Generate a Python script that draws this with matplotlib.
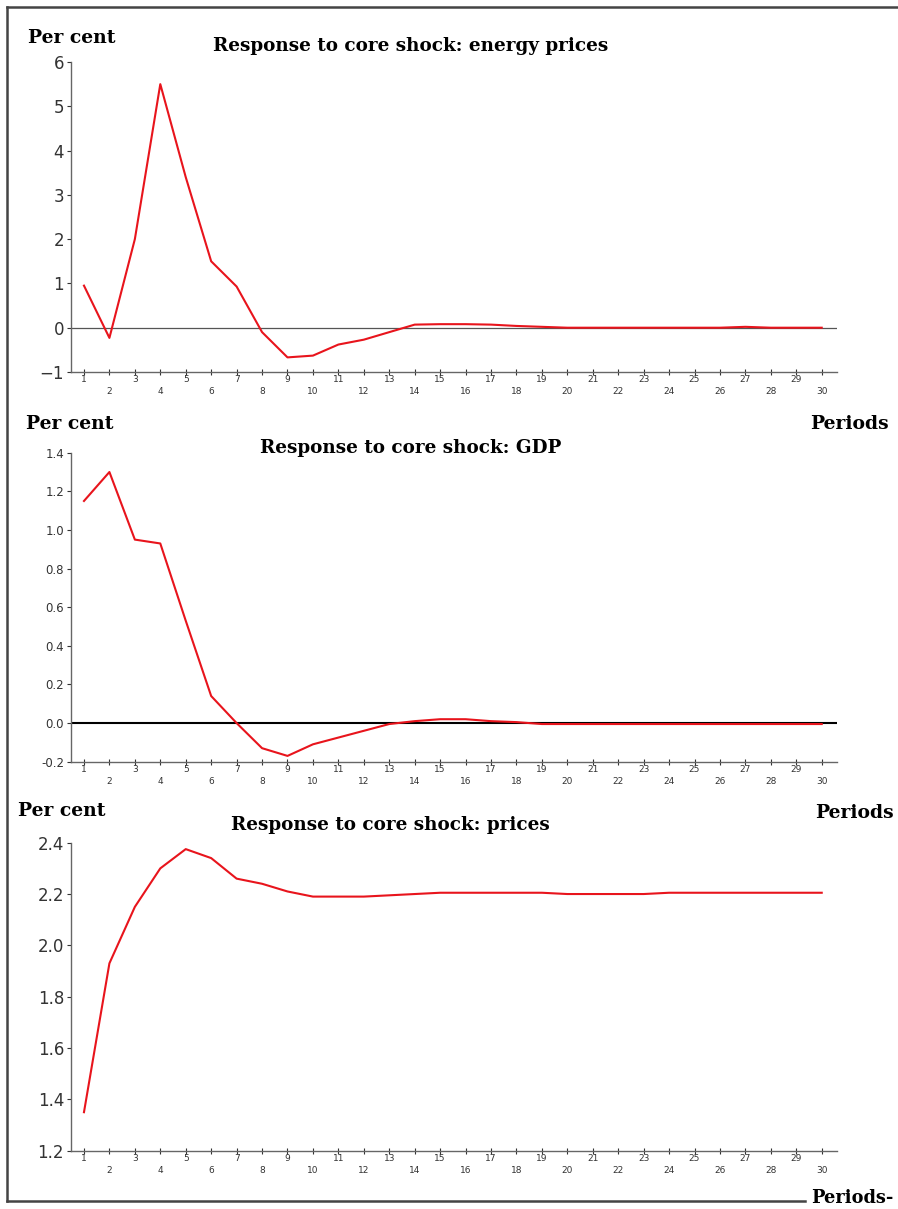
import numpy as np
import matplotlib
matplotlib.use("Agg")
import matplotlib.pyplot as plt
from matplotlib.lines import Line2D

# ── Data ────────────────────────────────────────────────────────────────
periods = list(range(1, 31))

energy_prices = [0.95, -0.23, 2.0, 5.5, 3.4, 1.5, 0.93, -0.1, -0.67, -0.63,
                 -0.38, -0.27, -0.1, 0.07, 0.08, 0.08, 0.07, 0.04, 0.02, 0.0,
                 0.0, 0.0, 0.0, 0.0, 0.0, 0.0, 0.02, 0.0, 0.0, 0.0]
gdp = [1.15, 1.30, 0.95, 0.93, 0.53, 0.14, 0.0, -0.13, -0.17, -0.11,
       -0.075, -0.04, -0.005, 0.01, 0.02, 0.02, 0.01, 0.005, -0.005, -0.005,
       -0.005, -0.005, -0.005, -0.005, -0.005, -0.005, -0.005, -0.005, -0.005, -0.005]
prices = [1.35, 1.93, 2.15, 2.30, 2.375, 2.34, 2.26, 2.24, 2.21, 2.19,
          2.19, 2.19, 2.195, 2.20, 2.205, 2.205, 2.205, 2.205, 2.205, 2.20,
          2.20, 2.20, 2.20, 2.205, 2.205, 2.205, 2.205, 2.205, 2.205, 2.205]

titles = ["Response to core shock: energy prices",
          "Response to core shock: GDP",
          "Response to core shock: prices"]
yticks_energy = [-1, 0, 1, 2, 3, 4, 5, 6]
ylabels_energy = ["\u22121", "0", "1", "2", "3", "4", "5", "6"]
yticks_gdp = [-0.2, 0.0, 0.2, 0.4, 0.6, 0.8, 1.0, 1.2, 1.4]
ylabels_gdp = ["-0.2", "0.0", "0.2", "0.4", "0.6", "0.8", "1.0", "1.2", "1.4"]
yticks_prices = [1.2, 1.4, 1.6, 1.8, 2.0, 2.2, 2.4]
ylabels_prices = ["1.2", "1.4", "1.6", "1.8", "2.0", "2.2", "2.4"]

W, H = 898, 1209
fig = plt.figure(figsize=(W / 100, H / 100), dpi=100, facecolor="white")

RED = "#e8141c"
SERIF = "DejaVu Serif"


def px_axes(left, top, right, bottom):
    return fig.add_axes([left / W, 1 - bottom / H, (right - left) / W, (bottom - top) / H])


def style_panel(ax, yticks, ylabels, ylim, ysize):
    ax.set_xlim(0.49, 30.6)
    ax.set_ylim(*ylim)
    for s in ("top", "right"):
        ax.spines[s].set_visible(False)
    for s in ("left", "bottom"):
        ax.spines[s].set_color("#666666")
        ax.spines[s].set_linewidth(1.0)
    odd = [p for p in periods if p % 2 == 1]
    even = [p for p in periods if p % 2 == 0]
    ax.set_xticks(odd)
    ax.set_xticklabels([str(p) for p in odd])
    ax.set_xticks(even, minor=True)
    ax.set_xticklabels([str(p) for p in even], minor=True)
    ax.tick_params(axis="x", which="major", direction="inout", length=4, width=0.8,
                   colors="#333333", labelsize=6.5, pad=0.5)
    ax.tick_params(axis="x", which="minor", direction="inout", length=4, width=0.8,
                   colors="#333333", labelsize=6.5, pad=9)
    ax.set_yticks(yticks)
    ax.set_yticklabels(ylabels)
    ax.tick_params(axis="y", direction="out", length=3, width=0.8,
                   colors="#333333", labelsize=ysize, pad=2)


# Panel 1 — energy prices
ax1 = px_axes(71, 62, 837, 372)
style_panel(ax1, yticks_energy, ylabels_energy, (-1, 6), 12)
ax1.axhline(0, color="#555555", linewidth=0.9, zorder=1)
ax1.plot(periods, energy_prices, color=RED, linewidth=1.5, zorder=3)

# Panel 2 — GDP
ax2 = px_axes(71, 452.7, 837, 761.7)
style_panel(ax2, yticks_gdp, ylabels_gdp, (-0.2, 1.4), 8.5)
ax2.axhline(0, color="black", linewidth=1.5, zorder=1)
ax2.plot(periods, gdp, color=RED, linewidth=1.5, zorder=3)

# Panel 3 — prices
ax3 = px_axes(71, 842.7, 837, 1150.7)
style_panel(ax3, yticks_prices, ylabels_prices, (1.2, 2.4), 12)
ax3.plot(periods, prices, color=RED, linewidth=1.5, zorder=3)


def fig_text(x, y, s, ha="left", size=13.5):
    fig.text(x / W, 1 - y / H, s, ha=ha, va="center", fontsize=size,
             fontweight="bold", family=SERIF, color="black")


fig_text(28, 38, "Per cent")
fig_text(411, 46, titles[0], ha="center", size=13.2)
fig_text(26, 424, "Per cent")
fig_text(810, 424, "Periods")
fig_text(411, 448, titles[1], ha="center", size=13.2)
fig_text(18, 811, "Per cent")
fig_text(815, 813, "Periods")
fig_text(390, 825, titles[2], ha="center", size=13.2)
fig_text(811, 1198, "Periods-", size=12.8)

# Frame around the figure
border = dict(color="#444444", linewidth=1.8, transform=fig.transFigure)
fig.add_artist(Line2D([7 / W, 7 / W], [1 - 7 / H, 1 - 1201 / H], **border))
fig.add_artist(Line2D([7 / W, 1.0], [1 - 7 / H, 1 - 7 / H], **border))
fig.add_artist(Line2D([7 / W, 805 / W], [1 - 1201 / H, 1 - 1201 / H], **border))

fig.savefig("out.png", dpi=100, facecolor="white")
